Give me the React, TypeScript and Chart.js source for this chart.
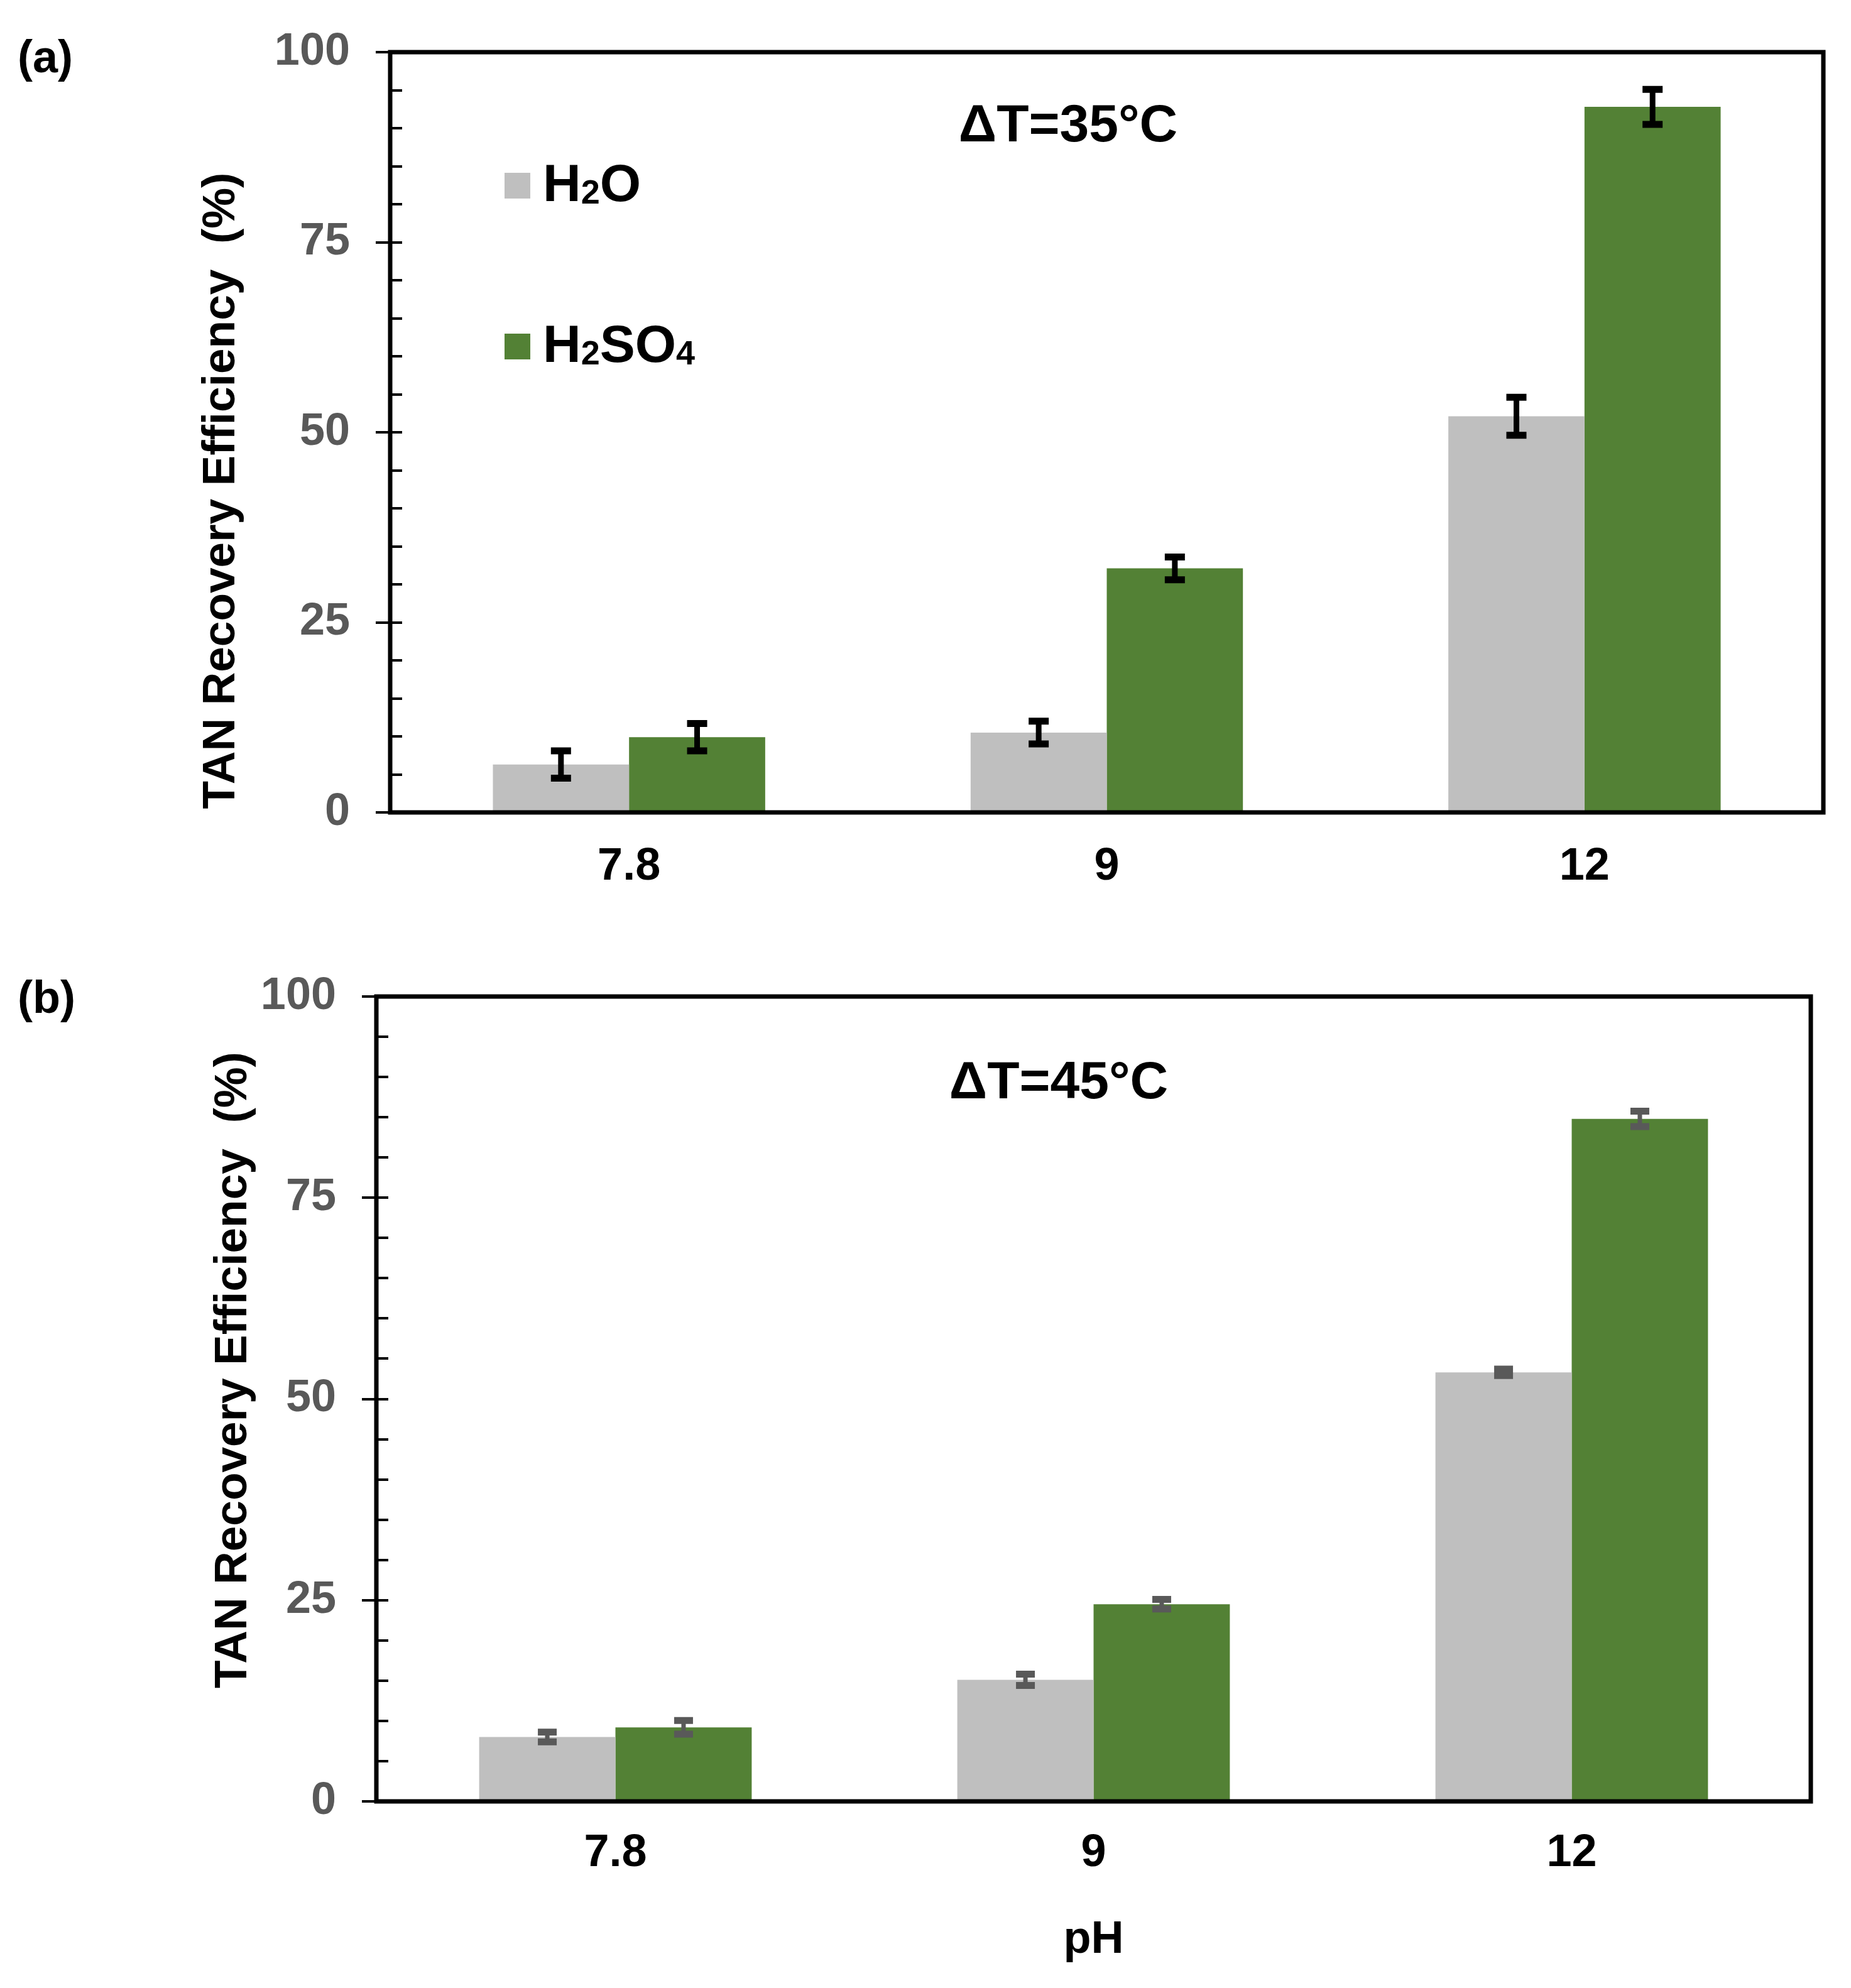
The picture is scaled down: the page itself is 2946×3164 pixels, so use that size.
import React, { useEffect, useRef } from 'react';
import { Chart, registerables } from 'chart.js';

Chart.register(...registerables);

// pH categories shared by both panels
const phLabels = ['7.8', '9', '12'];
const seriesNames = ['H₂O', 'H₂SO₄'];
const seriesColors = ['#bfbfbf', '#538135'];

// (a) ΔT = 35 °C
const water35 = [6.3, 10.5, 52.1];
const water35Err = [1.8, 1.5, 2.5];
const acid35 = [9.9, 32.1, 92.8];
const acid35Err = [1.8, 1.5, 2.3];

// (b) ΔT = 45 °C
const water45 = [8.0, 15.1, 53.3];
const water45Err = [0.6, 0.7, 0.4];
const acid45 = [9.2, 24.5, 84.8];
const acid45Err = [0.85, 0.6, 0.95];

const yTickStep = 25;
const yMinorStep = 5;

const FONT = '"Liberation Sans", Arial, sans-serif';
const SUBS: Record<string, string> = { '₀': '0', '₁': '1', '₂': '2', '₃': '3', '₄': '4' };

const drawRich = (ctx: CanvasRenderingContext2D, text: string, x: number, y: number, size: number) => {
  let cx = x;
  for (const ch of text) {
    if (SUBS[ch]) {
      ctx.font = `bold ${Math.round(size * 0.64)}px ${FONT}`;
      ctx.fillText(SUBS[ch], cx, y + size * 0.15);
      cx += ctx.measureText(SUBS[ch]).width;
    } else {
      ctx.font = `bold ${size}px ${FONT}`;
      ctx.fillText(ch, cx, y);
      cx += ctx.measureText(ch).width;
    }
  }
};

const decorPlugin = {
  id: 'decor',
  afterDatasetsDraw(chart: any, _args: any, o: any) {
    const { ctx, chartArea: a } = chart;
    const y = chart.scales.y;
    ctx.save();

    // error bars
    chart.data.datasets.forEach((ds: any, i: number) => {
      const meta = chart.getDatasetMeta(i);
      meta.data.forEach((bar: any, j: number) => {
        const v = ds.data[j];
        const e = ds.errors[j];
        const top = y.getPixelForValue(v + e);
        const bot = y.getPixelForValue(v - e);
        ctx.strokeStyle = o.errColor;
        ctx.lineWidth = o.stemWidth;
        ctx.beginPath();
        ctx.moveTo(bar.x, top);
        ctx.lineTo(bar.x, bot);
        ctx.stroke();
        ctx.lineWidth = o.capThick;
        ctx.beginPath();
        ctx.moveTo(bar.x - o.capWidth / 2, top);
        ctx.lineTo(bar.x + o.capWidth / 2, top);
        ctx.moveTo(bar.x - o.capWidth / 2, bot);
        ctx.lineTo(bar.x + o.capWidth / 2, bot);
        ctx.stroke();
      });
    });

    // plot frame
    ctx.strokeStyle = '#000';
    ctx.lineWidth = 7;
    ctx.strokeRect(a.left, a.top, a.width, a.height);

    // y ticks: majors cross the axis, minors point inward
    ctx.lineWidth = 4;
    ctx.beginPath();
    for (let v = y.min; v <= y.max + 1e-6; v += yMinorStep) {
      const py = Math.round(y.getPixelForValue(v));
      const major = Math.abs(v % yTickStep) < 1e-6;
      ctx.moveTo(a.left - (major ? 23 : 0), py);
      ctx.lineTo(a.left + 19, py);
    }
    ctx.stroke();

    // panel letter
    ctx.fillStyle = '#000';
    ctx.textBaseline = 'middle';
    ctx.textAlign = 'left';
    ctx.font = `bold 72px ${FONT}`;
    ctx.fillText(o.panel, 28, o.panelY);

    // condition note
    ctx.textAlign = 'center';
    ctx.font = `bold 84px ${FONT}`;
    ctx.fillText(o.note, o.noteX, o.noteY);

    // y title
    ctx.save();
    ctx.translate(o.yTitleX, (a.top + a.bottom) / 2 + o.yTitleShift);
    ctx.rotate(-Math.PI / 2);
    ctx.textAlign = 'center';
    ctx.textBaseline = 'alphabetic';
    ctx.font = `bold 73px ${FONT}`;
    ctx.fillText('TAN Recovery Efficiency  (%)', 0, 0);
    ctx.restore();

    // x title
    if (o.xTitle) {
      ctx.textAlign = 'center';
      ctx.textBaseline = 'middle';
      ctx.font = `bold 72px ${FONT}`;
      ctx.fillText(o.xTitle, (a.left + a.right) / 2, o.xTitleY);
    }

    // legend
    if (o.legend) {
      ctx.textAlign = 'left';
      ctx.textBaseline = 'middle';
      chart.data.datasets.forEach((ds: any, i: number) => {
        const ly = o.legend.y[i];
        ctx.fillStyle = ds.backgroundColor;
        ctx.fillRect(o.legend.x, ly - 20, 41, 41);
        ctx.fillStyle = '#000';
        drawRich(ctx, ds.label, o.legend.x + 61, ly + 2, 84);
      });
    }
    ctx.restore();
  },
};

type PanelProps = {
  height: number;
  water: number[];
  waterErr: number[];
  acid: number[];
  acidErr: number[];
  yAxisW: number;
  xAxisH: number;
  padTop: number;
  padRight: number;
  xPad: number;
  decor: any;
};

const Panel: React.FC<PanelProps> = (p) => {
  const ref = useRef<HTMLCanvasElement>(null);

  useEffect(() => {
    if (!ref.current) return;
    const chart = new Chart(ref.current, {
      type: 'bar',
      data: {
        labels: phLabels,
        datasets: [
          { label: seriesNames[0], data: p.water, errors: p.waterErr, backgroundColor: seriesColors[0] } as any,
          { label: seriesNames[1], data: p.acid, errors: p.acidErr, backgroundColor: seriesColors[1] } as any,
        ],
      },
      options: {
        responsive: false,
        animation: false,
        devicePixelRatio: 1,
        layout: { padding: { top: p.padTop, right: p.padRight, left: 0, bottom: 0 } },
        datasets: { bar: { barPercentage: 1, categoryPercentage: 0.57 } },
        scales: {
          x: {
            grid: { display: false, drawTicks: false },
            border: { display: false },
            ticks: { color: '#000', padding: p.xPad, font: { family: FONT, size: 72, weight: 'bold' } },
            afterFit: (s: any) => {
              s.height = p.xAxisH;
              s.paddingLeft = 0;
              s.paddingRight = 0;
            },
          },
          y: {
            min: 0,
            max: 100,
            grid: { display: false, drawTicks: false },
            border: { display: false },
            ticks: { stepSize: yTickStep, color: '#595959', padding: 64, font: { family: FONT, size: 72, weight: 'bold' } },
            afterFit: (s: any) => {
              s.width = p.yAxisW;
              s.paddingTop = 0;
              s.paddingBottom = 0;
            },
          },
        },
        plugins: {
          legend: { display: false },
          tooltip: { enabled: false },
          decor: p.decor,
        } as any,
      },
      plugins: [decorPlugin],
    });
    return () => chart.destroy();
  }, []);

  return <canvas ref={ref} width={2946} height={p.height} style={{ display: 'block' }} />;
};

export default function App() {
  useEffect(() => {
    document.body.style.margin = '0';
  }, []);

  return (
    <div style={{ width: 2946, background: '#fff' }}>
      <Panel
        height={1480}
        water={water35}
        waterErr={water35Err}
        acid={acid35}
        acidErr={acid35Err}
        yAxisW={621}
        xAxisH={187}
        padTop={83}
        padRight={44}
        xPad={44}
        decor={{
          panel: '(a)',
          panelY: 95,
          note: 'ΔT=35°C',
          noteX: 1700,
          noteY: 202,
          yTitleX: 373,
          yTitleShift: 93,
          errColor: '#000',
          stemWidth: 9,
          capThick: 11,
          capWidth: 32,
          legend: { x: 803, y: [295, 551] },
        }}
      />
      <Panel
        height={1684}
        water={water45}
        waterErr={water45Err}
        acid={acid45}
        acidErr={acid45Err}
        yAxisW={599}
        xAxisH={297}
        padTop={106}
        padRight={64}
        xPad={40}
        decor={{
          panel: '(b)',
          panelY: 112,
          note: 'ΔT=45°C',
          noteX: 1685,
          noteY: 245,
          yTitleX: 392,
          yTitleShift: -46,
          errColor: '#595959',
          stemWidth: 7,
          capThick: 11,
          capWidth: 30,
          xTitle: 'pH',
          xTitleY: 1608,
        }}
      />
    </div>
  );
}
